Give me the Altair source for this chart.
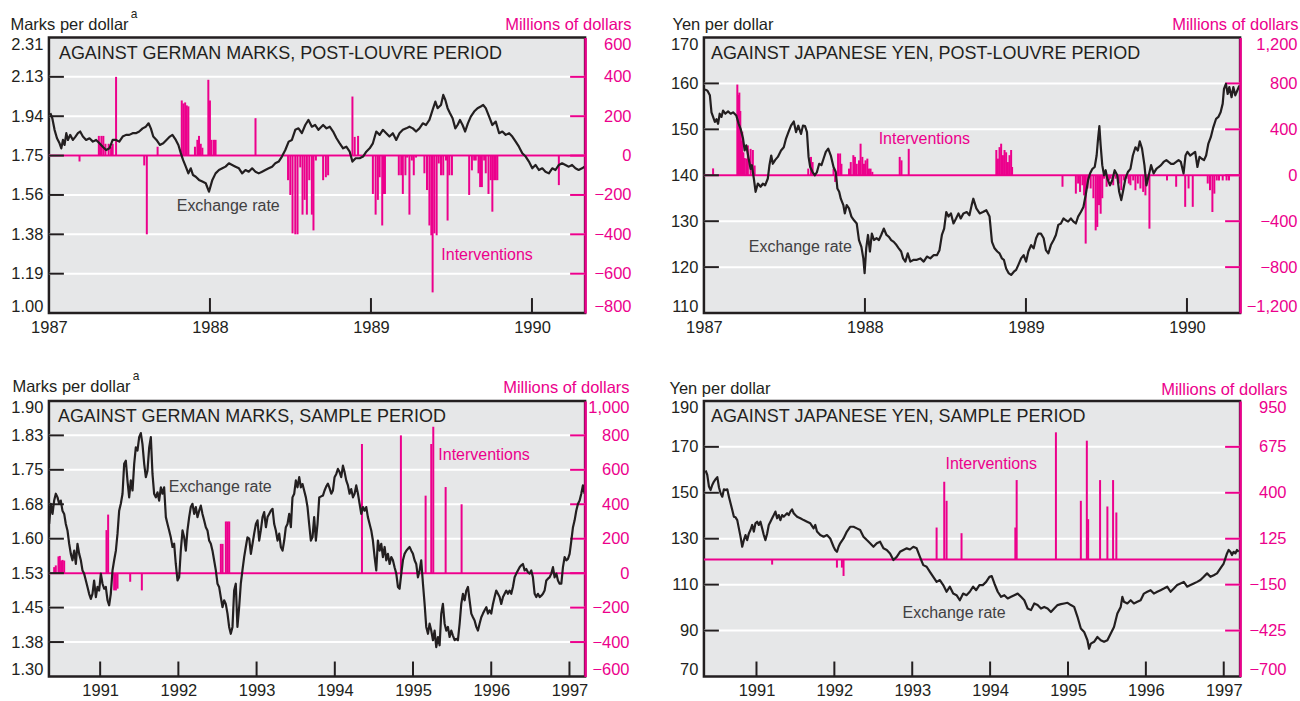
import altair as alt
import pandas as pd

BLACK = "#231f20"
PINK = "#ec008c"
BG = "#e6e7e8"
LABEL_GRAY = "#414042"
FONT = "Liberation Sans, Arial, Helvetica, sans-serif"
TICK_SIZE = 16.5
TITLE_SIZE = 16.5
NOTE_SIZE = 16

# ---------------- data ----------------
# Panel 1: marks per dollar, post-Louvre (year, rate)
P1_RATE = [
(1987.009,1.950),(1987.021,1.926),(1987.035,1.871),(1987.050,1.831),(1987.066,1.807),(1987.077,1.783),(1987.087,1.823),(1987.097,1.799),(1987.108,1.855),(1987.118,1.823),
(1987.132,1.847),(1987.149,1.823),(1987.165,1.839),(1987.180,1.855),(1987.194,1.863),(1987.211,1.839),(1987.231,1.823),(1987.252,1.831),(1987.273,1.815),(1987.293,1.823),
(1987.314,1.807),(1987.334,1.791),(1987.355,1.775),(1987.376,1.783),(1987.396,1.823),(1987.417,1.823),(1987.437,1.815),(1987.458,1.839),(1987.479,1.847),(1987.499,1.847),
(1987.520,1.855),(1987.540,1.855),(1987.561,1.863),(1987.582,1.878),(1987.602,1.886),(1987.619,1.902),(1987.633,1.878),(1987.648,1.839),(1987.668,1.823),(1987.689,1.799),
(1987.710,1.807),(1987.730,1.823),(1987.751,1.839),(1987.767,1.847),(1987.788,1.823),(1987.804,1.799),(1987.819,1.760),(1987.833,1.728),(1987.850,1.696),(1987.866,1.664),
(1987.881,1.688),(1987.895,1.656),(1987.912,1.648),(1987.932,1.633),(1987.953,1.625),(1987.974,1.617),(1987.994,1.577),(1988.015,1.633),(1988.035,1.664),(1988.056,1.680),
(1988.077,1.688),(1988.097,1.696),(1988.118,1.712),(1988.138,1.704),(1988.159,1.696),(1988.180,1.688),(1988.200,1.664),(1988.221,1.680),(1988.241,1.672),(1988.262,1.688),
(1988.283,1.672),(1988.303,1.664),(1988.324,1.672),(1988.344,1.680),(1988.365,1.688),(1988.386,1.696),(1988.406,1.712),(1988.427,1.720),(1988.447,1.744),(1988.468,1.775),
(1988.489,1.815),(1988.509,1.823),(1988.530,1.871),(1988.550,1.878),(1988.571,1.855),(1988.592,1.894),(1988.612,1.918),(1988.633,1.886),(1988.653,1.894),(1988.674,1.871),
(1988.703,1.894),(1988.724,1.878),(1988.744,1.886),(1988.765,1.863),(1988.786,1.831),(1988.806,1.807),(1988.827,1.783),(1988.847,1.791),(1988.868,1.767),(1988.885,1.720),
(1988.905,1.736),(1988.930,1.736),(1988.951,1.744),(1988.971,1.767),(1988.992,1.783),(1989.012,1.807),(1989.033,1.863),(1989.054,1.847),(1989.074,1.871),(1989.095,1.855),
(1989.115,1.839),(1989.136,1.855),(1989.157,1.823),(1989.177,1.855),(1989.198,1.871),(1989.219,1.878),(1989.239,1.886),(1989.260,1.878),(1989.280,1.863),(1989.301,1.878),
(1989.322,1.902),(1989.342,1.894),(1989.363,1.918),(1989.383,1.966),(1989.400,2.005),(1989.414,1.974),(1989.435,1.989),(1989.449,2.037),(1989.462,2.013),(1989.476,1.974),
(1989.491,1.950),(1989.507,1.926),(1989.524,1.878),(1989.538,1.894),(1989.553,1.918),(1989.569,1.894),(1989.585,1.863),(1989.602,1.902),(1989.620,1.934),(1989.641,1.958),
(1989.662,1.974),(1989.682,1.982),(1989.697,1.989),(1989.713,1.974),(1989.734,1.934),(1989.754,1.894),(1989.775,1.910),(1989.796,1.855),(1989.816,1.863),(1989.837,1.847),
(1989.858,1.855),(1989.878,1.839),(1989.899,1.815),(1989.919,1.791),(1989.940,1.760),(1989.961,1.744),(1989.981,1.720),(1990.002,1.688),(1990.022,1.704),(1990.043,1.680),
(1990.064,1.688),(1990.084,1.672),(1990.105,1.664),(1990.126,1.688),(1990.146,1.680),(1990.167,1.704),(1990.187,1.712),(1990.208,1.704),(1990.229,1.696),(1990.249,1.704),
(1990.270,1.688),(1990.290,1.680),(1990.311,1.688),(1990.327,1.696),
]
# (year, millions of dollars)
P1_INTERV = [
(1987.190,-30),(1987.310,100),(1987.318,60),(1987.326,100),(1987.338,100),(1987.351,60),(1987.371,60),(1987.386,45),(1987.396,60),(1987.417,400),
(1987.592,-50),(1987.608,-400),(1987.675,45),(1987.825,280),(1987.835,265),(1987.846,270),(1987.856,255),(1987.866,250),(1987.907,45),(1987.922,80),
(1987.932,100),(1987.943,60),(1987.953,40),(1987.990,385),(1988.000,280),(1988.010,80),(1988.025,80),(1988.035,80),(1988.283,190),(1988.485,-125),
(1988.499,-200),(1988.513,-395),(1988.530,-400),(1988.544,-400),(1988.561,-60),(1988.575,-300),(1988.588,-225),(1988.602,-300),(1988.617,-125),(1988.633,-300),
(1988.643,-380),(1988.658,-25),(1988.703,-125),(1988.720,-110),(1988.734,-100),(1988.885,300),(1988.899,95),(1988.920,100),(1989.012,-195),(1989.029,-300),
(1989.043,-225),(1989.054,-110),(1989.070,-355),(1989.078,-195),(1989.087,-195),(1989.173,-100),(1989.188,-100),(1989.198,-195),(1989.214,-100),(1989.225,-10),
(1989.239,-300),(1989.254,-25),(1989.266,-100),(1989.280,-10),(1989.332,-90),(1989.348,-175),(1989.363,-355),(1989.375,-405),(1989.383,-695),(1989.394,-395),
(1989.408,-405),(1989.421,-40),(1989.435,-100),(1989.449,-100),(1989.466,-25),(1989.476,-330),(1989.487,-100),(1989.503,-100),(1989.610,-200),(1989.627,-75),
(1989.641,-25),(1989.651,-25),(1989.668,-90),(1989.678,-160),(1989.689,-160),(1989.703,-25),(1989.713,-90),(1989.730,-195),(1989.744,-125),(1989.754,-285),
(1989.765,-125),(1989.775,-125),(1989.785,-125),(1990.167,-150),
]

# Panel 2: yen per dollar, post-Louvre
P2_RATE = [
(1987.006,158.7),(1987.022,158.4),(1987.037,157.4),(1987.047,153.7),(1987.057,152.7),(1987.068,151.6),(1987.078,152.2),(1987.088,151.2),(1987.098,153.4),(1987.109,152.7),
(1987.119,154.1),(1987.133,153.4),(1987.150,153.9),(1987.166,153.4),(1987.181,153.7),(1987.201,153.0),(1987.216,151.2),(1987.228,150.1),(1987.243,148.0),(1987.253,145.4),
(1987.263,146.5),(1987.278,143.6),(1987.290,141.4),(1987.298,142.2),(1987.310,139.3),(1987.321,136.4),(1987.335,138.2),(1987.352,137.5),(1987.366,138.2),(1987.380,137.8),
(1987.397,139.3),(1987.407,142.2),(1987.418,144.3),(1987.428,142.5),(1987.442,143.3),(1987.459,144.0),(1987.479,145.4),(1987.496,146.1),(1987.510,148.0),(1987.525,149.4),
(1987.541,150.8),(1987.558,151.7),(1987.572,149.4),(1987.586,150.8),(1987.603,149.0),(1987.615,150.8),(1987.628,150.7),(1987.640,149.4),(1987.650,144.0),(1987.660,141.8),
(1987.675,140.7),(1987.689,140.0),(1987.702,140.7),(1987.716,142.5),(1987.730,142.2),(1987.743,143.6),(1987.757,145.1),(1987.772,145.8),(1987.788,144.3),(1987.805,141.8),
(1987.819,140.7),(1987.829,137.1),(1987.840,136.4),(1987.850,134.9),(1987.866,133.5),(1987.875,131.7),(1987.887,133.5),(1987.901,132.8),(1987.916,131.0),(1987.932,130.2),
(1987.949,129.5),(1987.963,125.9),(1987.978,124.4),(1987.990,121.9),(1987.998,118.7),(1988.008,124.1),(1988.019,127.0),(1988.031,123.4),(1988.043,127.3),(1988.056,125.9),
(1988.072,126.3),(1988.087,125.9),(1988.101,127.0),(1988.117,128.4),(1988.134,127.0),(1988.149,126.6),(1988.163,125.9),(1988.179,125.5),(1988.196,124.8),(1988.210,124.1),
(1988.225,123.4),(1988.237,121.9),(1988.251,121.2),(1988.266,123.0),(1988.282,121.2),(1988.303,121.6),(1988.323,121.6),(1988.344,121.9),(1988.365,121.2),(1988.385,122.3),
(1988.406,121.9),(1988.426,122.6),(1988.447,122.6),(1988.463,123.7),(1988.478,127.0),(1988.492,128.4),(1988.505,132.0),(1988.519,131.0),(1988.534,131.7),(1988.550,129.5),
(1988.566,130.6),(1988.581,131.7),(1988.595,130.6),(1988.612,131.7),(1988.632,132.0),(1988.649,131.3),(1988.663,133.5),(1988.673,134.9),(1988.692,132.8),(1988.713,131.7),
(1988.733,132.0),(1988.754,132.4),(1988.774,131.0),(1988.789,125.5),(1988.805,124.1),(1988.822,123.4),(1988.836,123.0),(1988.851,121.9),(1988.863,121.6),(1988.877,119.7),
(1988.892,118.7),(1988.908,118.3),(1988.925,119.0),(1988.939,119.4),(1988.953,120.5),(1988.970,121.9),(1988.986,122.6),(1989.001,121.2),(1989.015,123.4),(1989.032,124.8),
(1989.048,124.1),(1989.063,126.3),(1989.077,127.3),(1989.093,127.3),(1989.110,126.3),(1989.124,123.7),(1989.139,123.0),(1989.155,124.8),(1989.172,125.9),(1989.186,127.0),
(1989.201,129.2),(1989.217,129.5),(1989.233,130.6),(1989.248,130.2),(1989.262,129.9),(1989.279,130.6),(1989.295,129.9),(1989.310,129.5),(1989.324,131.0),(1989.341,132.0),
(1989.357,133.1),(1989.371,135.7),(1989.386,138.9),(1989.398,140.4),(1989.413,141.4),(1989.427,141.8),(1989.439,144.3),(1989.448,148.0),(1989.456,150.7),(1989.464,146.5),
(1989.474,142.2),(1989.485,140.0),(1989.495,141.1),(1989.505,139.3),(1989.522,137.8),(1989.536,138.9),(1989.551,141.1),(1989.567,140.0),(1989.579,136.4),(1989.592,134.6),
(1989.604,136.7),(1989.618,139.3),(1989.633,140.7),(1989.649,141.4),(1989.664,144.3),(1989.680,146.1),(1989.695,145.4),(1989.707,147.4),(1989.721,145.8),(1989.736,142.2),
(1989.748,137.8),(1989.763,140.0),(1989.777,142.2),(1989.793,140.4),(1989.810,141.4),(1989.824,141.8),(1989.839,142.2),(1989.855,142.9),(1989.872,143.3),(1989.886,142.9),
(1989.901,142.5),(1989.917,142.5),(1989.933,142.9),(1989.948,143.3),(1989.962,142.9),(1989.979,140.4),(1989.991,144.3),(1990.003,145.1),(1990.020,144.3),(1990.036,144.7),
(1990.051,145.1),(1990.065,141.8),(1990.078,144.0),(1990.092,143.6),(1990.106,143.3),(1990.119,144.3),(1990.133,146.9),(1990.148,148.3),(1990.164,150.5),(1990.181,152.3),
(1990.195,152.7),(1990.209,153.7),(1990.222,155.6),(1990.230,158.8),(1990.242,159.9),(1990.253,157.7),(1990.263,159.2),(1990.277,157.0),(1990.288,159.2),(1990.300,157.4),
(1990.312,158.4),(1990.325,159.5),
]
P2_INTERV = [
(1987.057,60),(1987.2075,790),(1987.214,700),(1987.220,720),(1987.226,560),(1987.232,300),(1987.238,380),(1987.245,200),(1987.253,150),(1987.263,145),
(1987.273,260),(1987.290,230),(1987.304,220),(1987.315,85),(1987.648,58),(1987.665,160),(1987.675,115),(1987.805,58),(1987.815,-58),(1987.833,190),
(1987.846,190),(1987.854,100),(1987.901,58),(1987.912,115),(1987.928,175),(1987.938,160),(1987.949,100),(1987.963,130),(1987.973,275),(1987.984,160),
(1987.994,100),(1988.004,130),(1988.015,145),(1988.025,58),(1988.035,58),(1988.046,30),(1988.216,160),(1988.227,130),(1988.272,230),(1988.816,220),
(1988.826,145),(1988.836,245),(1988.846,275),(1988.857,175),(1988.867,220),(1988.877,200),(1988.888,115),(1988.898,175),(1988.908,220),(1988.914,72),
(1989.227,-100),(1989.310,-160),(1989.324,-72),(1989.336,-145),(1989.351,-87),(1989.361,-175),(1989.371,-595),(1989.382,-115),(1989.402,-115),(1989.419,-200),
(1989.433,-480),(1989.443,-450),(1989.454,-260),(1989.464,-335),(1989.474,-200),(1989.485,-30),(1989.501,-100),(1989.516,-45),(1989.526,-30),(1989.542,-87),
(1989.557,-30),(1989.577,-72),(1989.592,-130),(1989.608,-45),(1989.625,-30),(1989.639,-72),(1989.649,-87),(1989.666,-45),(1989.680,-130),(1989.695,-72),
(1989.711,-115),(1989.728,-145),(1989.742,-175),(1989.752,-58),(1989.767,-465),(1989.876,-45),(1989.933,-100),(1989.989,-275),(1990.010,-115),(1990.036,-275),
(1990.129,-72),(1990.143,-130),(1990.158,-320),(1990.170,-160),(1990.185,-45),(1990.199,-45),(1990.222,-45),(1990.246,-45),(1990.261,-45),
]

# Panel 3: marks per dollar, sample period
P3_RATE = [
(1990.348,1.632),(1990.369,1.676),(1990.391,1.654),(1990.412,1.683),(1990.433,1.698),(1990.455,1.690),(1990.476,1.676),(1990.497,1.683),(1990.518,1.661),(1990.540,1.654),
(1990.561,1.632),(1990.582,1.618),(1990.604,1.589),(1990.625,1.567),(1990.646,1.553),(1990.668,1.574),(1990.689,1.545),(1990.710,1.589),(1990.732,1.567),(1990.753,1.553),
(1990.774,1.531),(1990.795,1.524),(1990.817,1.509),(1990.838,1.495),(1990.859,1.480),(1990.881,1.469),(1990.902,1.480),(1990.923,1.509),(1990.945,1.473),(1990.966,1.495),
(1990.987,1.487),(1991.009,1.524),(1991.030,1.502),(1991.051,1.491),(1991.072,1.495),(1991.094,1.466),(1991.115,1.455),(1991.136,1.480),(1991.158,1.531),(1991.179,1.553),
(1991.201,1.574),(1991.222,1.611),(1991.243,1.661),(1991.264,1.676),(1991.286,1.698),(1991.307,1.763),(1991.328,1.770),(1991.350,1.725),(1991.371,1.690),(1991.392,1.727),
(1991.414,1.705),(1991.435,1.763),(1991.456,1.799),(1991.477,1.792),(1991.499,1.821),(1991.520,1.830),(1991.541,1.806),(1991.563,1.763),(1991.584,1.734),(1991.605,1.748),
(1991.627,1.799),(1991.648,1.821),(1991.669,1.741),(1991.690,1.698),(1991.712,1.690),(1991.733,1.701),(1991.754,1.683),(1991.776,1.712),(1991.797,1.698),(1991.818,1.712),
(1991.840,1.647),(1991.861,1.632),(1991.882,1.618),(1991.903,1.603),(1991.925,1.582),(1991.946,1.589),(1991.967,1.545),(1991.989,1.509),(1992.010,1.516),(1992.031,1.574),
(1992.053,1.618),(1992.074,1.603),(1992.095,1.574),(1992.116,1.618),(1992.138,1.647),(1992.159,1.669),(1992.180,1.676),(1992.202,1.654),(1992.223,1.669),(1992.244,1.647),
(1992.266,1.661),(1992.287,1.672),(1992.308,1.654),(1992.329,1.640),(1992.351,1.625),(1992.372,1.618),(1992.393,1.596),(1992.415,1.589),(1992.436,1.574),(1992.457,1.553),
(1992.479,1.531),(1992.500,1.502),(1992.521,1.495),(1992.542,1.473),(1992.564,1.451),(1992.585,1.466),(1992.606,1.458),(1992.628,1.437),(1992.649,1.408),(1992.670,1.393),
(1992.692,1.408),(1992.713,1.487),(1992.734,1.502),(1992.755,1.408),(1992.777,1.451),(1992.798,1.502),(1992.819,1.531),(1992.841,1.560),(1992.862,1.582),(1992.883,1.603),
(1992.906,1.600),(1992.927,1.567),(1992.948,1.589),(1992.969,1.611),(1992.991,1.632),(1993.012,1.640),(1993.033,1.596),(1993.054,1.618),(1993.076,1.647),(1993.097,1.658),
(1993.119,1.625),(1993.140,1.647),(1993.161,1.654),(1993.182,1.661),(1993.204,1.665),(1993.225,1.632),(1993.246,1.618),(1993.268,1.596),(1993.289,1.611),(1993.310,1.582),
(1993.332,1.574),(1993.353,1.596),(1993.374,1.625),(1993.395,1.632),(1993.417,1.654),(1993.438,1.625),(1993.459,1.690),(1993.481,1.698),(1993.502,1.727),(1993.523,1.712),
(1993.545,1.734),(1993.566,1.712),(1993.587,1.719),(1993.608,1.705),(1993.630,1.690),(1993.651,1.669),(1993.672,1.632),(1993.694,1.596),(1993.715,1.603),(1993.736,1.647),
(1993.758,1.596),(1993.779,1.632),(1993.801,1.690),(1993.848,1.694),(1993.869,1.705),(1993.891,1.714),(1993.912,1.720),(1993.933,1.710),(1993.955,1.698),(1993.976,1.705),
(1993.997,1.734),(1994.019,1.741),(1994.040,1.752),(1994.061,1.745),(1994.082,1.734),(1994.104,1.759),(1994.125,1.745),(1994.146,1.727),(1994.168,1.716),(1994.189,1.698),
(1994.210,1.708),(1994.232,1.690),(1994.253,1.698),(1994.274,1.716),(1994.296,1.698),(1994.317,1.676),(1994.338,1.654),(1994.360,1.669),(1994.381,1.661),(1994.402,1.669),
(1994.423,1.647),(1994.445,1.632),(1994.466,1.618),(1994.487,1.596),(1994.509,1.560),(1994.530,1.531),(1994.551,1.596),(1994.573,1.574),(1994.594,1.589),(1994.615,1.560),
(1994.637,1.582),(1994.658,1.553),(1994.679,1.567),(1994.701,1.545),(1994.722,1.560),(1994.743,1.553),(1994.764,1.538),(1994.786,1.524),(1994.807,1.495),(1994.828,1.491),
(1994.850,1.524),(1994.871,1.553),(1994.892,1.567),(1994.914,1.574),(1994.935,1.578),(1994.956,1.582),(1994.978,1.574),(1994.999,1.567),(1995.020,1.553),(1995.041,1.545),
(1995.063,1.516),(1995.084,1.531),(1995.105,1.553),(1995.127,1.502),(1995.148,1.458),(1995.169,1.408),(1995.191,1.393),(1995.212,1.415),(1995.233,1.400),(1995.255,1.379),
(1995.276,1.400),(1995.297,1.364),(1995.319,1.386),(1995.340,1.368),(1995.361,1.437),(1995.382,1.458),(1995.404,1.415),(1995.425,1.400),(1995.446,1.408),(1995.468,1.386),
(1995.489,1.400),(1995.510,1.389),(1995.532,1.379),(1995.553,1.382),(1995.574,1.379),(1995.596,1.415),(1995.617,1.458),(1995.638,1.480),(1995.660,1.466),(1995.681,1.487),
(1995.702,1.495),(1995.723,1.466),(1995.745,1.437),(1995.766,1.429),(1995.787,1.422),(1995.809,1.408),(1995.830,1.400),(1995.851,1.415),(1995.873,1.429),(1995.894,1.437),
(1995.915,1.444),(1995.937,1.451),(1995.958,1.437),(1995.979,1.444),(1996.000,1.437),(1996.022,1.458),(1996.043,1.473),(1996.064,1.487),(1996.086,1.480),(1996.107,1.473),
(1996.128,1.458),(1996.150,1.473),(1996.171,1.480),(1996.192,1.487),(1996.213,1.480),(1996.235,1.487),(1996.256,1.480),(1996.277,1.495),(1996.299,1.516),(1996.320,1.524),
(1996.341,1.531),(1996.363,1.538),(1996.384,1.542),(1996.405,1.545),(1996.427,1.531),(1996.448,1.534),(1996.469,1.527),(1996.491,1.524),(1996.512,1.531),(1996.533,1.516),
(1996.555,1.480),(1996.576,1.473),(1996.597,1.480),(1996.619,1.473),(1996.640,1.476),(1996.661,1.480),(1996.682,1.487),(1996.704,1.509),(1996.725,1.513),(1996.746,1.516),
(1996.768,1.524),(1996.789,1.538),(1996.810,1.516),(1996.832,1.524),(1996.853,1.509),(1996.874,1.502),(1996.896,1.502),(1996.917,1.538),(1996.938,1.560),(1996.960,1.553),
(1996.981,1.556),(1997.002,1.567),(1997.024,1.596),(1997.045,1.625),(1997.066,1.640),(1997.087,1.661),(1997.109,1.676),(1997.130,1.683),(1997.151,1.698),(1997.172,1.716),
(1997.194,1.698),
]
P3_INTERV = [
(1990.412,35),(1990.433,45),(1990.467,97),(1990.484,100),(1990.501,73),(1990.519,77),(1990.540,73),(1991.081,250),(1991.102,340),(1991.179,-100),
(1991.201,-100),(1991.222,-90),(1991.384,-50),(1991.533,-100),(1992.543,170),(1992.565,170),(1992.607,300),(1992.629,300),(1992.650,300),(1994.347,750),
(1994.845,800),(1995.161,450),(1995.233,750),(1995.259,850),(1995.417,500),(1995.621,400),
]

# Panel 4: yen per dollar, sample period
P4_RATE = [
(1990.347,159.7),(1990.368,157.8),(1990.390,152.7),(1990.411,151.2),(1990.432,153.4),(1990.454,154.9),(1990.475,155.9),(1990.497,156.8),(1990.518,152.4),(1990.539,149.8),
(1990.561,148.3),(1990.582,151.5),(1990.603,151.2),(1990.625,151.5),(1990.646,148.3),(1990.667,145.4),(1990.689,142.5),(1990.710,139.6),(1990.731,139.3),(1990.753,138.1),
(1990.774,134.5),(1990.795,130.9),(1990.817,126.5),(1990.838,129.4),(1990.859,131.6),(1990.881,129.4),(1990.902,132.3),(1990.923,133.8),(1990.945,136.0),(1990.966,133.1),
(1990.987,136.7),(1991.009,137.4),(1991.030,136.0),(1991.051,137.4),(1991.073,134.5),(1991.094,131.6),(1991.115,129.4),(1991.137,132.3),(1991.158,136.0),(1991.179,137.4),
(1991.201,138.9),(1991.222,140.3),(1991.243,141.8),(1991.265,138.9),(1991.286,140.3),(1991.307,138.1),(1991.329,140.3),(1991.350,139.6),(1991.371,140.3),(1991.393,141.1),
(1991.414,140.3),(1991.435,141.8),(1991.457,142.8),(1991.478,141.1),(1991.499,140.3),(1991.521,139.6),(1991.563,138.9),(1991.606,138.1),(1991.649,137.4),(1991.691,136.7),
(1991.734,134.5),(1991.755,136.0),(1991.777,133.1),(1991.819,131.6),(1991.862,130.9),(1991.905,131.6),(1991.947,130.1),(1991.990,126.5),(1992.011,125.1),(1992.033,124.3),
(1992.054,126.5),(1992.075,128.0),(1992.118,130.1),(1992.161,133.1),(1992.203,135.2),(1992.246,135.2),(1992.289,134.5),(1992.331,133.8),(1992.374,130.9),(1992.417,129.4),
(1992.459,128.0),(1992.502,126.5),(1992.545,128.0),(1992.587,128.7),(1992.630,125.8),(1992.673,125.1),(1992.715,123.6),(1992.758,120.7),(1992.801,122.1),(1992.843,124.3),
(1992.886,125.1),(1992.929,125.8),(1992.971,125.3),(1993.014,126.5),(1993.057,125.8),(1993.099,122.1),(1993.142,118.5),(1993.185,117.8),(1993.227,115.6),(1993.270,113.4),
(1993.313,111.2),(1993.355,112.0),(1993.398,109.8),(1993.441,106.9),(1993.483,109.1),(1993.526,106.1),(1993.569,105.4),(1993.611,103.2),(1993.654,106.1),(1993.697,105.4),
(1993.739,106.9),(1993.782,109.1),(1993.821,107.6),(1993.863,109.8),(1993.906,109.8),(1993.949,111.2),(1993.991,113.4),(1994.021,113.7),(1994.055,110.5),(1994.098,106.9),
(1994.141,104.7),(1994.183,105.4),(1994.226,104.0),(1994.269,104.7),(1994.311,105.4),(1994.354,106.1),(1994.397,104.7),(1994.439,103.2),(1994.482,99.6),(1994.525,98.9),
(1994.567,101.8),(1994.610,101.1),(1994.653,99.6),(1994.695,100.3),(1994.738,99.6),(1994.781,98.1),(1994.823,99.6),(1994.866,101.1),(1994.909,101.5),(1994.951,101.8),
(1994.994,102.1),(1995.037,101.1),(1995.079,100.3),(1995.122,96.0),(1995.165,90.9),(1995.207,89.4),(1995.250,85.8),(1995.271,82.1),(1995.293,84.3),(1995.335,85.1),
(1995.378,87.2),(1995.421,85.8),(1995.463,85.1),(1995.506,85.8),(1995.549,88.7),(1995.591,91.6),(1995.634,97.4),(1995.677,100.3),(1995.698,104.7),(1995.719,102.5),
(1995.762,101.8),(1995.805,103.2),(1995.847,101.8),(1995.890,102.5),(1995.933,103.2),(1995.975,106.1),(1996.018,106.9),(1996.061,107.6),(1996.103,106.1),(1996.146,106.9),
(1996.189,107.6),(1996.231,108.3),(1996.274,109.1),(1996.317,106.9),(1996.359,108.3),(1996.402,109.8),(1996.445,110.5),(1996.487,111.2),(1996.530,109.1),(1996.573,109.8),
(1996.615,110.5),(1996.658,111.2),(1996.701,112.0),(1996.743,113.4),(1996.786,114.9),(1996.829,113.4),(1996.871,114.1),(1996.914,114.9),(1996.957,117.1),(1996.999,119.2),
(1997.021,121.4),(1997.042,123.6),(1997.063,125.1),(1997.085,124.3),(1997.106,122.9),(1997.127,124.3),(1997.149,123.6),(1997.170,125.1),(1997.192,124.3),
]
P4_INTERV = [
(1991.201,-30),(1992.033,-48),(1992.097,-48),(1992.118,-98),(1993.313,192),(1993.411,466),(1993.441,352),(1993.633,158),(1994.324,192),(1994.341,476),
(1994.845,762),(1995.165,352),(1995.242,712),(1995.259,242),(1995.412,476),(1995.506,318),(1995.579,476),(1995.621,282),
]

# axis tick labels
P1_LEFT_LABELS = ["1.00", "1.19", "1.38", "1.56", "1.75", "1.94", "2.13", "2.31"]
P2_LEFT_LABELS = ["110", "120", "130", "140", "150", "160", "170"]
P3_LEFT_LABELS = ["1.30", "1.38", "1.45", "1.53", "1.60", "1.68", "1.75", "1.83", "1.90"]
P4_LEFT_LABELS = ["70", "90", "110", "130", "150", "170", "190"]
P1_RIGHT_TICKS = [-800, -600, -400, -200, 0, 200, 400, 600]
P2_RIGHT_TICKS = [-1200, -800, -400, 0, 400, 800, 1200]
P3_RIGHT_TICKS = [-600, -400, -200, 0, 200, 400, 600, 800, 1000]
P4_RIGHT_TICKS = [-700, -425, -150, 125, 400, 675, 950]
YEARS_A = [1987, 1988, 1989, 1990]
YEARS_B = [1991, 1992, 1993, 1994, 1995, 1996, 1997]

W, H = 537, 276

PANELS = [
    dict(head="AGAINST GERMAN MARKS, POST-LOUVRE PERIOD", ltitle="Marks per dollar", sup=True,
         rate=P1_RATE, interv=P1_INTERV, xdom=[1987.0, 1990.33], xlabels=YEARS_A, xmarks=YEARS_A[1:],
         ldom=[1.00, 2.31], llabels=P1_LEFT_LABELS, rdom=[-800, 600], rticks=P1_RIGHT_TICKS,
         ltx=-39, lty=-8, rtx=46, rty=-8, rlp=46,
         hx=10, hy=22, ex=128, ey=174, ix=393, iy=223),
    dict(head="AGAINST JAPANESE YEN, POST-LOUVRE PERIOD", ltitle="Yen per dollar", sup=False,
         rate=P2_RATE, interv=P2_INTERV, xdom=[1987.0, 1990.33], xlabels=YEARS_A, xmarks=YEARS_A[1:],
         ldom=[110, 170], llabels=P2_LEFT_LABELS, rdom=[-1200, 1200], rticks=P2_RIGHT_TICKS,
         ltx=-32, lty=-8, rtx=58, rty=-8, rlp=57,
         hx=7, hy=22, ex=45, ey=215, ix=175, iy=107),
    dict(head="AGAINST GERMAN MARKS, SAMPLE PERIOD", ltitle="Marks per dollar", sup=True,
         rate=P3_RATE, interv=P3_INTERV, xdom=[1990.345, 1997.2], xlabels=YEARS_B, xmarks=YEARS_B,
         ldom=[1.30, 1.90], llabels=P3_LEFT_LABELS, rdom=[-600, 1000], rticks=P3_RIGHT_TICKS,
         ltx=-37, lty=-9, rtx=44, rty=-8, rlp=44,
         hx=9, hy=21, ex=120, ey=91, ix=390, iy=59),
    dict(head="AGAINST JAPANESE YEN, SAMPLE PERIOD", ltitle="Yen per dollar", sup=False,
         rate=P4_RATE, interv=P4_INTERV, xdom=[1990.325, 1997.21], xlabels=YEARS_B, xmarks=YEARS_B,
         ldom=[70, 190], llabels=P4_LEFT_LABELS, rdom=[-700, 950], rticks=P4_RIGHT_TICKS,
         ltx=-35, lty=-7, rtx=47, rty=-6, rlp=46,
         hx=7, hy=21, ex=199, ey=217, ix=242, iy=68),
]


def text_layer(txt, x, y, color, size):
    return alt.Chart(pd.DataFrame({"t": [txt]})).mark_text(
        align="left", baseline="alphabetic", font=FONT, fontSize=size, color=color
    ).encode(text="t:N", x=alt.value(x), y=alt.value(y))


def panel(p):
    lo, hi = p["ldom"]
    n = len(p["llabels"])
    step = (hi - lo) / (n - 1)
    lvals = [lo + i * step for i in range(n)]
    lexpr = "[" + ",".join("'%s'" % s for s in p["llabels"]) + "][round((datum.value - %r) / %r)]" % (lo, step)

    xs = alt.Scale(domain=p["xdom"], nice=False, zero=False)
    ls = alt.Scale(domain=p["ldom"], nice=False, zero=False)
    rs = alt.Scale(domain=p["rdom"], nice=False, zero=False)

    xaxis = alt.Axis(values=p["xlabels"], format="d", title=None, labelFlush=False, ticks=False,
                     tickSize=0, domain=False, grid=False, labelPadding=6, labelFont=FONT,
                     labelFontSize=TICK_SIZE, labelColor=BLACK)
    laxis = alt.Axis(orient="left", values=lvals, labelExpr=lexpr, title=p["ltitle"], titleAngle=0,
                     titleAlign="left", titleBaseline="alphabetic", titleX=p["ltx"], titleY=p["lty"],
                     titleFont=FONT, titleFontSize=TITLE_SIZE, titleFontWeight="normal", titleColor=BLACK,
                     labelFont=FONT, labelFontSize=TICK_SIZE, labelColor=BLACK, labelPadding=6,
                     labelFlush=True, labelFlushOffset=1, ticks=False, tickSize=0, domain=False, grid=False)
    raxis = alt.Axis(orient="right", values=p["rticks"], format=",.0f", title="Millions of dollars",
                     titleAngle=0, titleAlign="right", titleBaseline="alphabetic", titleX=p["rtx"],
                     titleY=p["rty"], titleFont=FONT, titleFontSize=TITLE_SIZE, titleFontWeight="normal",
                     titleColor=PINK, labelFont=FONT, labelFontSize=TICK_SIZE, labelColor=PINK,
                     labelAlign="right", labelPadding=p["rlp"], labelFlush=True, labelFlushOffset=1,
                     ticks=False, tickSize=0, domain=True, domainColor=PINK, domainWidth=2.5,
                     grid=False, zindex=1)

    X = alt.X("year:Q", scale=xs, axis=xaxis)

    # right-hand (interventions) layers share one scale and one axis definition
    inner_r = pd.DataFrame({"v": p["rticks"][1:-1]})
    grid = alt.Chart(inner_r).mark_rule(color="white", strokeWidth=2).encode(
        y=alt.Y("v:Q", scale=rs, axis=raxis), x=alt.value(0), x2=alt.value(W))
    base = alt.Chart(pd.DataFrame({"v": [0]})).mark_rule(color=PINK, strokeWidth=2).encode(
        y=alt.Y("v:Q", scale=rs, axis=raxis), x=alt.value(0), x2=alt.value(W))
    idf = pd.DataFrame(p["interv"], columns=["year", "v"])
    idf["zero"] = 0
    bars = alt.Chart(idf).mark_rule(color=PINK, strokeWidth=2).encode(
        x=X, y=alt.Y("v:Q", scale=rs, axis=raxis), y2=alt.Y2("zero:Q"))
    rtk = alt.Chart(inner_r).mark_rule(color=PINK, strokeWidth=2).encode(
        y=alt.Y("v:Q", scale=rs, axis=raxis), x=alt.value(W - 15), x2=alt.value(W))
    right_layer = alt.layer(grid, base, bars, rtk)

    # left-hand (exchange rate) layers
    rdf = pd.DataFrame(p["rate"], columns=["year", "u"])
    line = alt.Chart(rdf).mark_line(color=BLACK, strokeWidth=2.2, strokeJoin="round").encode(
        x=X, y=alt.Y("u:Q", scale=ls, axis=laxis))
    ltk = alt.Chart(pd.DataFrame({"u": lvals[1:-1]})).mark_rule(color=BLACK, strokeWidth=2).encode(
        y=alt.Y("u:Q", scale=ls, axis=laxis), x=alt.value(0), x2=alt.value(15))
    xtk = alt.Chart(pd.DataFrame({"year": p["xmarks"]})).mark_rule(color=BLACK, strokeWidth=2).encode(
        x=X, y=alt.value(H), y2=alt.value(H - 15))
    layers = [line, ltk, xtk,
              text_layer(p["head"], p["hx"], p["hy"], BLACK, 18),
              text_layer("Exchange rate", p["ex"], p["ey"], LABEL_GRAY, NOTE_SIZE),
              text_layer("Interventions", p["ix"], p["iy"], PINK, NOTE_SIZE)]
    if p["sup"]:
        layers.append(text_layer("a", p["ltx"] + 121, p["lty"] - 12, BLACK, 12))
    left_layer = alt.layer(*layers)

    return alt.layer(right_layer, left_layer).resolve_scale(y="independent").properties(width=W, height=H)


charts = [panel(p) for p in PANELS]
chart = alt.concat(*charts, columns=2, spacing={"row": 88, "column": 119}, bounds="flush").properties(
    padding={"left": 8, "top": 5, "right": 0, "bottom": 0}, background="white"
).configure_view(fill=BG, stroke=BLACK, strokeWidth=2.5)

chart.save("out.html", embed_options={"renderer": "svg", "actions": False})
